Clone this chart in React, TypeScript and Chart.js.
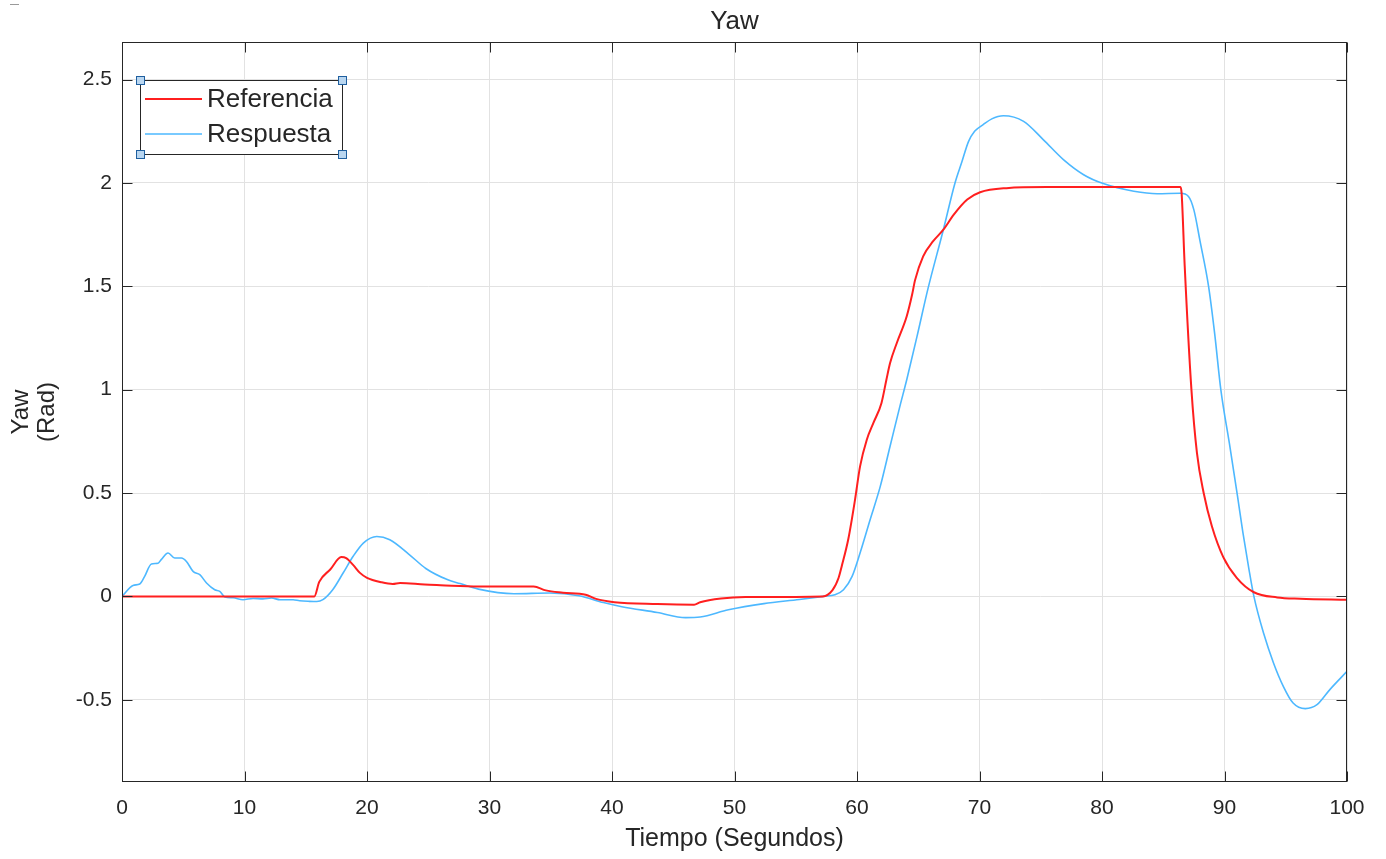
import React, { useEffect, useRef } from "react";
import { Chart, registerables } from "chart.js";

Chart.register(...registerables);

// ---- Data ----
const refT = [0, 15.7, 16.1, 17.0, 17.9, 18.3, 18.9, 19.4, 20.0, 21.2, 22.1, 22.7, 24.7, 26.0, 29.1, 33.6, 34.6, 36.0, 37.85, 38.7, 40.2, 43.7, 46.7, 47.2, 48.9, 50.9, 57.2, 58.0, 58.5, 58.75, 59.3, 59.84, 60.25, 60.8, 61.34, 62.0, 62.4, 62.7, 63.25, 64.06, 64.5, 64.74, 65.4, 66.2, 67.05, 67.9, 69.0, 70.05, 72.2, 75.5, 86.4, 86.5, 86.75, 87.3, 87.75, 88.3, 88.97, 89.9, 91.0, 92.4, 94.3, 96.2, 100];
const refY = [0, 0, 0.07, 0.13, 0.19, 0.185, 0.15, 0.115, 0.09, 0.068, 0.06, 0.065, 0.057, 0.054, 0.048, 0.048, 0.029, 0.018, 0.008, -0.012, -0.028, -0.037, -0.04, -0.028, -0.01, -0.003, 0.0, 0.03, 0.09, 0.145, 0.28, 0.468, 0.629, 0.758, 0.839, 0.936, 1.048, 1.129, 1.226, 1.355, 1.46, 1.53, 1.645, 1.717, 1.774, 1.847, 1.92, 1.955, 1.975, 1.98, 1.98, 1.95, 1.6, 1.0, 0.694, 0.5, 0.339, 0.19, 0.09, 0.02, -0.005, -0.011, -0.016];

const respT = [0, 0.9, 1.45, 1.85, 2.4, 2.94, 3.2, 3.76, 4.3, 4.85, 5.26, 5.8, 6.35, 6.9, 7.57, 7.98, 8.4, 9.07, 9.88, 10.7, 11.5, 12.2, 12.9, 13.97, 14.5, 15.3, 15.9, 16.4, 17.2, 18.05, 18.87, 19.7, 20.8, 21.86, 23.4, 24.8, 26.6, 27.6, 29.1, 32.0, 34.9, 37.3, 39.3, 40.8, 43.7, 46.0, 47.2, 49.5, 52.4, 55.3, 57.25, 58.2, 58.9, 59.6, 60.25, 61.07, 61.9, 62.7, 63.5, 64.06, 64.9, 65.8, 67.05, 68.0, 68.55, 69.1, 69.6, 70.3, 71.0, 71.95, 73.6, 75.2, 76.85, 78.5, 80.1, 82.6, 84.5, 86.4, 87.06, 87.5, 88.0, 88.7, 89.2, 89.7, 90.4, 91.05, 91.5, 92.0, 92.4, 93.2, 94.0, 94.8, 95.6, 96.6, 97.55, 98.6, 100];
const respY = [0, 0.053, 0.06, 0.097, 0.157, 0.16, 0.178, 0.21, 0.186, 0.186, 0.169, 0.121, 0.105, 0.065, 0.032, 0.024, -0.003, -0.007, -0.016, -0.01, -0.012, -0.008, -0.016, -0.016, -0.021, -0.024, -0.025, -0.016, 0.032, 0.113, 0.194, 0.258, 0.29, 0.274, 0.205, 0.135, 0.08, 0.062, 0.035, 0.013, 0.016, 0.003, -0.03, -0.05, -0.078, -0.103, -0.1, -0.065, -0.035, -0.015, 0.0, 0.008, 0.032, 0.097, 0.21, 0.371, 0.532, 0.726, 0.919, 1.048, 1.258, 1.49, 1.774, 2.0, 2.1, 2.2, 2.25, 2.282, 2.31, 2.325, 2.298, 2.21, 2.113, 2.04, 1.997, 1.96, 1.948, 1.95, 1.935, 1.87, 1.72, 1.5, 1.27, 1.0, 0.74, 0.49, 0.31, 0.13, 0.0, -0.18, -0.322, -0.435, -0.516, -0.543, -0.524, -0.451, -0.363];

const seriesNames = ["Referencia", "Respuesta"];
const seriesColors = ["#ff1f1f", "#4db8ff"];
const titleText = "Yaw";
const xLabel = "Tiempo (Segundos)";
const yLabelLines = ["Yaw", "(Rad)"];
const xRange = [0, 100];
const yRange = [-0.898, 2.682];

const FONT = "'Liberation Sans', Arial, Helvetica, sans-serif";
const TEXT = "#262626";

const decorPlugin = {
  id: "decor",
  afterDraw(chart: any) {
    const ctx = chart.ctx;
    const a = chart.chartArea;
    const xs = chart.scales.x;
    const ys = chart.scales.y;
    const L = Math.round(a.left) + 0.5;
    const R = Math.round(a.right) - 0.5;
    const T = Math.round(a.top) + 0.5;
    const B = Math.round(a.bottom) - 0.5;
    ctx.save();
    // box
    ctx.strokeStyle = TEXT;
    ctx.lineWidth = 1;
    ctx.strokeRect(L, T, R - L, B - T);
    // inward ticks
    const tl = 10;
    ctx.beginPath();
    xs.ticks.forEach((t: any) => {
      const px = Math.round(xs.getPixelForValue(t.value)) + 0.5;
      ctx.moveTo(px, B);
      ctx.lineTo(px, B - tl);
      ctx.moveTo(px, T);
      ctx.lineTo(px, T + tl);
    });
    ys.ticks.forEach((t: any) => {
      const py = Math.round(ys.getPixelForValue(t.value)) + 0.5;
      ctx.moveTo(L, py);
      ctx.lineTo(L + tl, py);
      ctx.moveTo(R, py);
      ctx.lineTo(R - tl, py);
    });
    ctx.stroke();

    // title
    ctx.fillStyle = TEXT;
    ctx.font = `26px ${FONT}`;
    ctx.textAlign = "center";
    ctx.textBaseline = "middle";
    ctx.fillText(titleText, (a.left + a.right) / 2, 22);

    // x label
    ctx.font = `25px ${FONT}`;
    ctx.fillText(xLabel, (a.left + a.right) / 2, 839);

    // y label (rotated, two lines)
    const cy = (a.top + a.bottom) / 2;
    ctx.font = `24px ${FONT}`;
    ctx.save();
    ctx.translate(0, cy);
    ctx.rotate(-Math.PI / 2);
    ctx.fillText(yLabelLines[0], 0, 21);
    ctx.fillText(yLabelLines[1], 0, 47);
    ctx.restore();

    // legend
    const lx0 = 140.5, ly0 = 80.5, lx1 = 342.5, ly1 = 154.5;
    ctx.fillStyle = "#ffffff";
    ctx.fillRect(lx0, ly0, lx1 - lx0, ly1 - ly0);
    ctx.strokeStyle = TEXT;
    ctx.lineWidth = 1;
    ctx.strokeRect(lx0, ly0, lx1 - lx0, ly1 - ly0);
    const rows = [99, 134];
    seriesNames.forEach((name, i) => {
      ctx.strokeStyle = seriesColors[i];
      ctx.lineWidth = i === 0 ? 2 : 1.6;
      ctx.beginPath();
      ctx.moveTo(145, rows[i]);
      ctx.lineTo(202, rows[i]);
      ctx.stroke();
      ctx.fillStyle = TEXT;
      ctx.font = `26px ${FONT}`;
      ctx.textAlign = "left";
      ctx.textBaseline = "middle";
      ctx.fillText(name, 207, rows[i] + 1);
    });
    // selection handles
    const hs = 8;
    [[lx0, ly0], [lx1, ly0], [lx0, ly1], [lx1, ly1]].forEach(([hx, hy]) => {
      ctx.fillStyle = "#b9d6f0";
      ctx.fillRect(hx - hs / 2, hy - hs / 2, hs, hs);
      ctx.strokeStyle = "#1f5f9f";
      ctx.lineWidth = 1;
      ctx.strokeRect(hx - hs / 2, hy - hs / 2, hs, hs);
    });

    // small artifact dash at top-left
    ctx.strokeStyle = "#9a9a9a";
    ctx.lineWidth = 1;
    ctx.beginPath();
    ctx.moveTo(10, 4.5);
    ctx.lineTo(19, 4.5);
    ctx.stroke();
    ctx.restore();
  },
};

export default function App() {
  const ref = useRef<HTMLCanvasElement | null>(null);
  useEffect(() => {
    if (!ref.current) return;
    const chart = new Chart(ref.current, {
      type: "line",
      data: {
        datasets: [
          {
            label: seriesNames[0],
            data: refT.map((t, i) => ({ x: t, y: refY[i] })),
            borderColor: seriesColors[0],
            borderWidth: 2,
            pointRadius: 0,
            cubicInterpolationMode: "monotone",
            fill: false,
          },
          {
            label: seriesNames[1],
            data: respT.map((t, i) => ({ x: t, y: respY[i] })),
            borderColor: seriesColors[1],
            borderWidth: 1.6,
            pointRadius: 0,
            cubicInterpolationMode: "monotone",
            fill: false,
          },
        ],
      },
      options: {
        animation: false,
        responsive: false,
        devicePixelRatio: 1,
        layout: { padding: { top: 42, right: 39, left: 0, bottom: 0 } },
        plugins: {
          legend: { display: false },
          title: { display: false },
          tooltip: { enabled: false },
        },
        scales: {
          x: {
            type: "linear",
            min: xRange[0],
            max: xRange[1],
            afterFit: (s: any) => {
              s.height = 77;
            },
            ticks: {
              stepSize: 10,
              includeBounds: false,
              color: TEXT,
              font: { family: FONT, size: 21 },
              padding: 14,
              maxRotation: 0,
            },
            grid: { color: "#e2e2e2", lineWidth: 1, drawTicks: false },
            border: { display: false },
          },
          y: {
            type: "linear",
            min: yRange[0],
            max: yRange[1],
            afterFit: (s: any) => {
              s.width = 122;
            },
            ticks: {
              stepSize: 0.5,
              includeBounds: false,
              color: TEXT,
              font: { family: FONT, size: 21 },
              padding: 10,
              callback: (v: any) => String(Number(Number(v).toFixed(2))),
            },
            grid: { color: "#e2e2e2", lineWidth: 1, drawTicks: false },
            border: { display: false },
          },
        },
      },
      plugins: [decorPlugin],
    } as any);
    return () => chart.destroy();
  }, []);
  return (
    <div style={{ position: "fixed", left: 0, top: 0, width: 1386, height: 859, background: "#fff" }}>
      <canvas ref={ref} width={1386} height={859} style={{ width: 1386, height: 859, display: "block" }} />
    </div>
  );
}
